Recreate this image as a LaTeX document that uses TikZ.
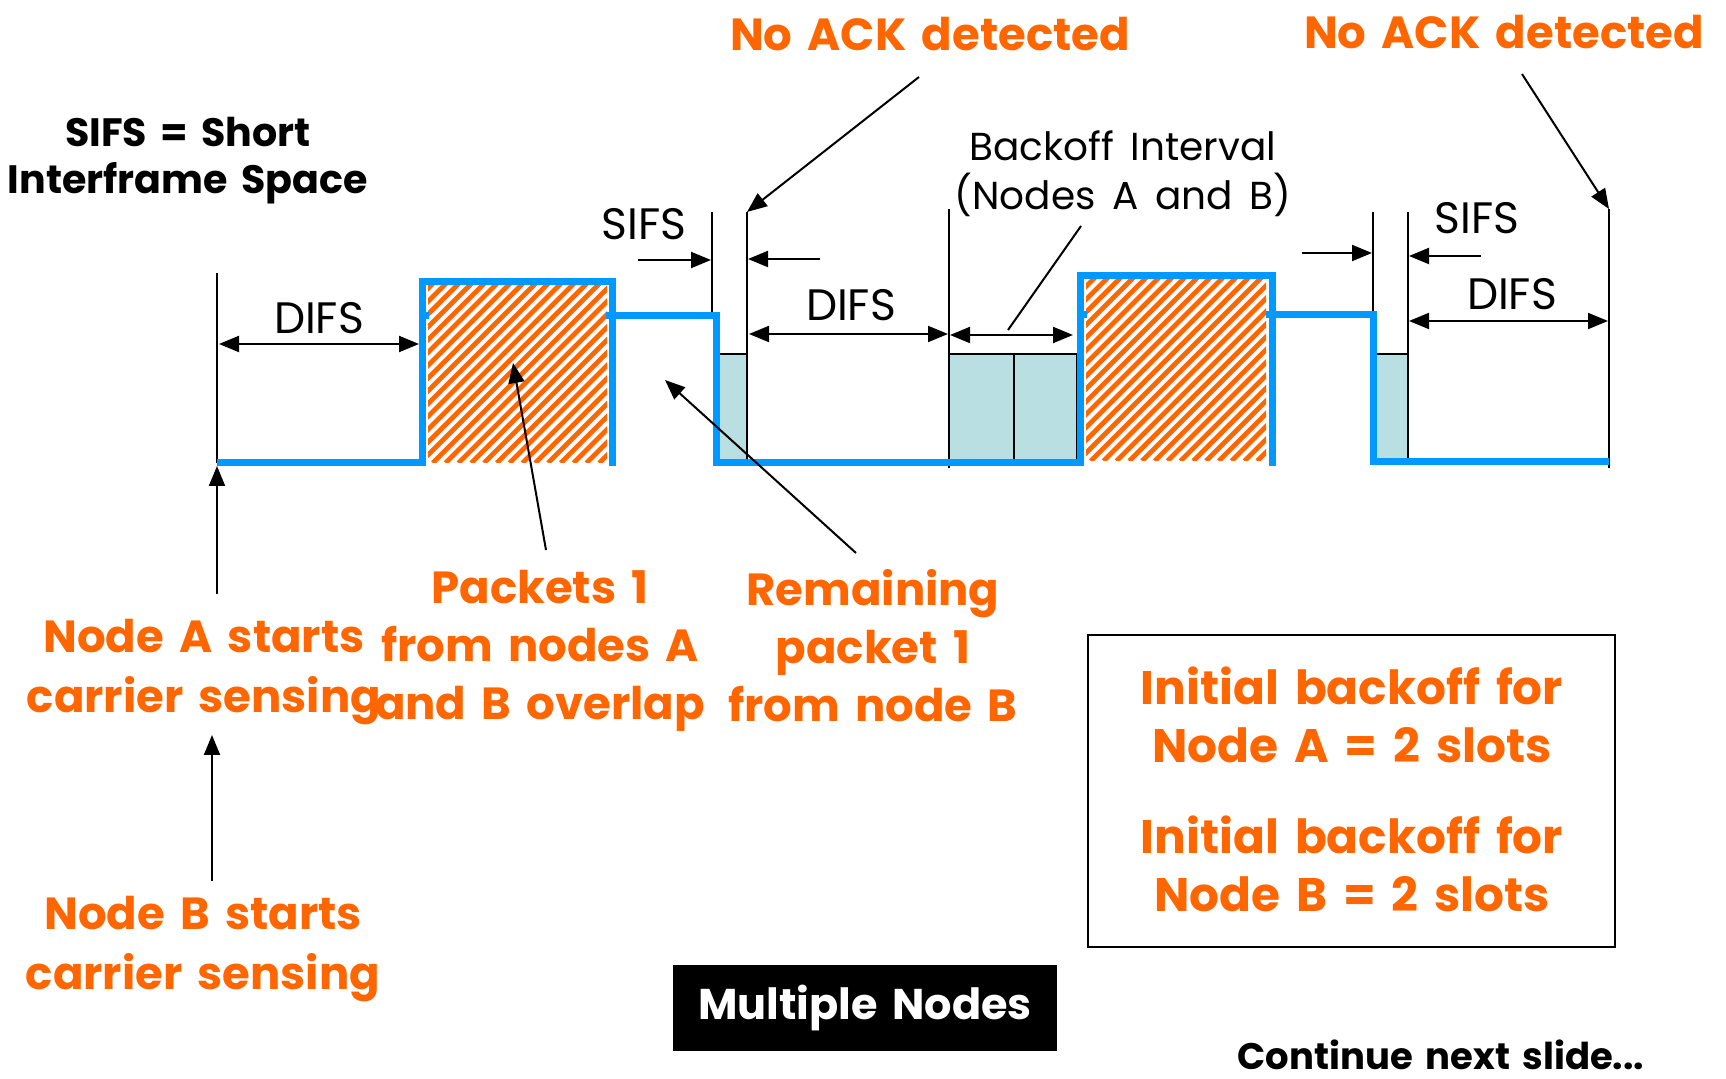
\documentclass[tikz,border=0pt]{standalone}
\usepackage{fontspec}
\setmainfont{Poppins}[WordSpace=1.6]
\usetikzlibrary{arrows.meta}
\definecolor{sigblue}{RGB}{0,153,255}
\definecolor{hot}{RGB}{255,102,0}
\definecolor{slot}{RGB}{185,223,226}

\tikzset{
  sig/.style={sigblue, line width=3.5pt, line join=miter},
  guide/.style={black, line width=1pt},
  tipped/.style={guide, -{Triangle[length=10pt,width=8pt]}},
  dtipped/.style={guide, {Triangle[length=10pt,width=8pt]}-{Triangle[length=10pt,width=8pt]}},
  slotbox/.style={fill=slot, draw=black, line width=0.8pt},
  hatchline/.style={hot, line width=2.4pt},
  hotlabel/.style={text=hot, font=\bfseries\fontsize{22.5}{29}\selectfont, align=center, inner sep=0pt},
  plainlabel/.style={font=\fontsize{22}{24.5}\selectfont, align=center, inner sep=0pt},
  boldlabel/.style={font=\bfseries\fontsize{19.8}{23.5}\selectfont, align=center, inner sep=0pt},
}

\begin{document}
\begin{tikzpicture}[x=0.5pt,y=-0.5pt]
\useasboundingbox (0,0) rectangle (1726,1079);

% ---- backoff / ack slots ----
\filldraw[slotbox] (716,354) rectangle (747,463);
\filldraw[slotbox] (949,354) rectangle (1014,463);
\filldraw[slotbox] (1014,354) rectangle (1077,463);
\filldraw[slotbox] (1373,354) rectangle (1408,462);

% ---- overlapping packets: diagonal hatching ----
\begin{scope}
  \clip (428,285) rectangle (607,463);
  \foreach \k in {0,...,30}
    \draw[hatchline] (228+\k*12.8,463) -- ++(200,-200);
\end{scope}
\begin{scope}
  \clip (1086,280) rectangle (1266,461);
  \foreach \k in {0,...,30}
    \draw[hatchline] (886+\k*12.8,461) -- ++(200,-200);
\end{scope}

% ---- timing guides ----
\draw[guide] (217,273) -- (217,463);
\draw[guide] (712,212) -- (712,316);
\draw[guide] (747,212) -- (747,463);
\draw[guide] (949,209) -- (949,468);
\draw[guide] (1373,212) -- (1373,315);
\draw[guide] (1408,212) -- (1408,462);
\draw[guide] (1609,209) -- (1609,468);

% ---- channel signal ----
\draw[sig] (217,463) -- (422,463) -- (422,282) -- (612,282) -- (612,466);
\draw[sig] (422,316) -- (429,316);
\draw[sig] (606,316) -- (716,316) -- (716,463) -- (1080,463) -- (1080,276) -- (1272,276) -- (1272,466);
\draw[sig] (1080,315) -- (1087,315);
\draw[sig] (1266,315) -- (1373,315) -- (1373,462) -- (1609,462);

% ---- interval arrows ----
\coordinate (d1a) at (219,344);
\coordinate (d1b) at (419,344);
\draw[dtipped] (d1a) -- (d1b);
\coordinate (s1a) at (638,260);
\coordinate (s1b) at (711,260);
\draw[tipped] (s1a) -- (s1b);
\coordinate (s2a) at (820,259);
\coordinate (s2b) at (748,259);
\draw[tipped] (s2a) -- (s2b);
\coordinate (d2a) at (749,334);
\coordinate (d2b) at (948,334);
\draw[dtipped] (d2a) -- (d2b);
\coordinate (b1a) at (950,335);
\coordinate (b1b) at (1073,335);
\draw[dtipped] (b1a) -- (b1b);
\coordinate (s3a) at (1302,253);
\coordinate (s3b) at (1372,253);
\draw[tipped] (s3a) -- (s3b);
\coordinate (s4a) at (1481,256);
\coordinate (s4b) at (1409,256);
\draw[tipped] (s4a) -- (s4b);
\coordinate (d3a) at (1409,321);
\coordinate (d3b) at (1608,321);
\draw[dtipped] (d3a) -- (d3b);

% ---- interval labels ----
\node[boldlabel] (sifsdef) at (188,161) {SIFS = Short\\Interframe Space};
\node[plainlabel] (difs1) at (319,318) {DIFS};
\node[plainlabel] (sifs1) at (644,224) {SIFS};
\node[plainlabel] (difs2) at (851,305) {DIFS};
\node[plainlabel, font=\fontsize{19.5}{24.5}\selectfont] (backoff) at (1123,174) {Backoff Interval\\(Nodes A and B)};
\node[plainlabel] (sifs2) at (1477,218) {SIFS};
\node[plainlabel] (difs3) at (1512,294) {DIFS};

\coordinate (bkfrom) at (1081,226);
\coordinate (bkto) at (1008,330);
\draw[guide] (bkfrom) -- (bkto);

% ---- event callouts ----
\node[hotlabel] (ack1) at (930,34) {No ACK detected};
\node[hotlabel] (ack2) at (1504,32) {No ACK detected};
\coordinate (ack1from) at (919,77);
\coordinate (ack1to) at (747,212);
\coordinate (ack2from) at (1522,74);
\coordinate (ack2to) at (1609,209);
\draw[tipped] (ack1from) -- (ack1to);
\draw[tipped] (ack2from) -- (ack2to);

\node[hotlabel] (overlap) at (540,651) {Packets 1\\from nodes A\\and B overlap};
\node[hotlabel] (remain) at (873,646) {Remaining\\packet 1\\from node B};
\node[hotlabel, font=\bfseries\fontsize{22.5}{30}\selectfont] (senseA) at (204,672) {Node A starts\\carrier sensing};
\node[hotlabel, font=\bfseries\fontsize{22.5}{30}\selectfont] (senseB) at (203,949) {Node B starts\\carrier sensing};

\coordinate (ovfrom) at (546,550);
\coordinate (ovto) at (513,363);
\draw[tipped] (ovfrom) -- (ovto);
\coordinate (rmfrom) at (856,553);
\coordinate (rmto) at (665,380);
\draw[tipped] (rmfrom) -- (rmto);
\coordinate (safrom) at (217,594);
\coordinate (sato) at (217,466);
\draw[tipped] (safrom) -- (sato);
\coordinate (sbfrom) at (212,881);
\coordinate (sbto) at (212,735);
\draw[tipped] (sbfrom) -- (sbto);

% ---- initial backoff note ----
\node[draw=black, line width=1pt, minimum width=263.5pt, minimum height=156pt, inner sep=0pt] (note) at (1351,791) {};
\node[hotlabel, font=\bfseries\fontsize{23.5}{29}\selectfont] (noteA) at (1352,715) {Initial backoff for\\Node A = 2 slots};
\node[hotlabel, font=\bfseries\fontsize{23.5}{29}\selectfont] (noteB) at (1352,864) {Initial backoff for\\Node B = 2 slots};

% ---- title tag and footer ----
\node[fill=black, text=white, minimum width=192pt, minimum height=43pt, inner sep=0pt,
      font=\bfseries\fontsize{21.5}{26}\selectfont] (title) at (865,1008) {Multiple Nodes};
\node[anchor=base, inner sep=0pt, font=\bfseries\fontsize{18.5}{22}\selectfont] (cont) at (1441,1069) {Continue next slide...};
\end{tikzpicture}
\end{document}
